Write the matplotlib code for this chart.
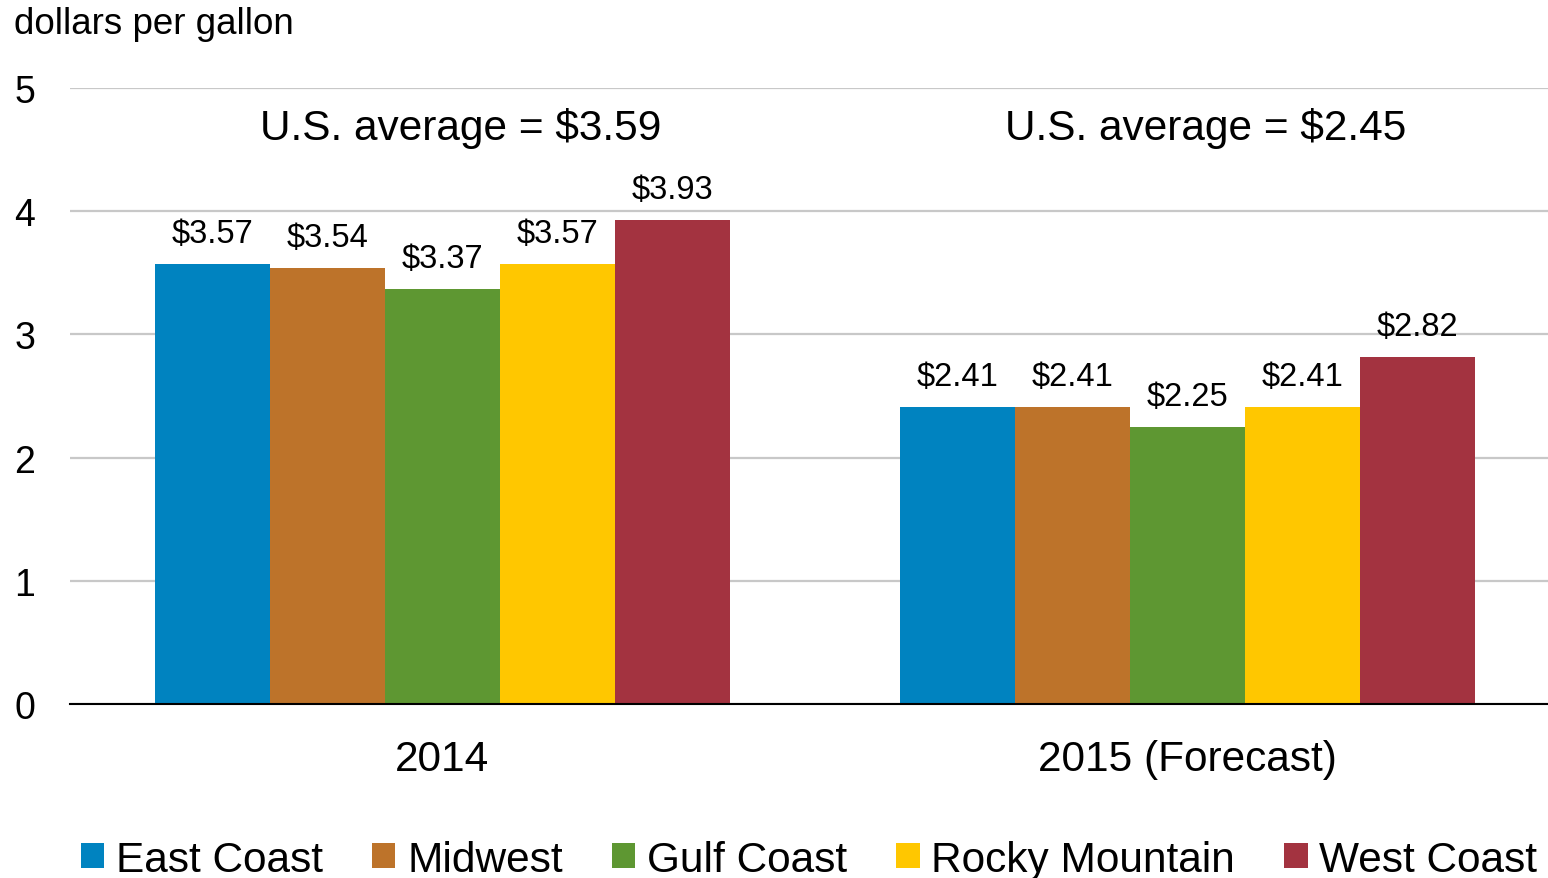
import numpy as np
import matplotlib
matplotlib.use('Agg')
import matplotlib.pyplot as plt

plt.rcParams['font.family'] = ['Liberation Sans', 'DejaVu Sans']

# Data
years = ['2014', '2015 (Forecast)']
regions = ['East Coast', 'Midwest', 'Gulf Coast', 'Rocky Mountain', 'West Coast']
prices = {
    'East Coast': [3.57, 2.41],
    'Midwest': [3.54, 2.41],
    'Gulf Coast': [3.37, 2.25],
    'Rocky Mountain': [3.57, 2.41],
    'West Coast': [3.93, 2.82],
}
us_average = [3.59, 2.45]
colors = ['#0083C0', '#BD732A', '#5E9732', '#FFC700', '#A33340']

fig = plt.figure(figsize=(15.48, 8.79), dpi=100)
ax = fig.add_axes([70/1548, 1 - 705/879, 1478/1548, (705 - 89)/879])

x = np.arange(len(years))
w = 0.1544
for i, reg in enumerate(regions):
    bars = ax.bar(x + (i - 2) * w, prices[reg], w, color=colors[i], label=reg, zorder=2)
    for b, v in zip(bars, prices[reg]):
        ax.annotate(f'${v:.2f}', (b.get_x() + b.get_width() / 2, v),
                    xytext=(0, 22), textcoords='offset points',
                    ha='center', va='center', fontsize=23.5)

for xi, avg in zip(x, us_average):
    ax.text(xi + 0.025, 4.68, f'U.S. average = ${avg:.2f}', ha='center', va='center', fontsize=30.5)

ax.set_xlim(-0.5, 1.484)
ax.set_ylim(0, 5)
ax.set_yticks(range(6))
ax.set_xticks(x)
ax.set_xticklabels(years)
ax.tick_params(axis='y', length=0, pad=25, labelsize=27)
ax.tick_params(axis='x', length=0, pad=25, labelsize=30.5)
ax.yaxis.grid(True, color='#C8C8C8', linewidth=1.6)
ax.set_axisbelow(True)
for s in ['top', 'right', 'left']:
    ax.spines[s].set_visible(False)
ax.spines['bottom'].set_linewidth(1.5)
ax.spines['bottom'].set_zorder(3)

fig.text(14/1548, 1 - 25/879, 'dollars per gallon', ha='left', va='center', fontsize=26.5)

fig.legend(loc='center', bbox_to_anchor=(0.5226, 0.021), ncol=5, frameon=False,
           fontsize=30.5, handlelength=0.55, handleheight=0.55, handletextpad=0.28,
           columnspacing=1.16, borderpad=0, borderaxespad=0)

fig.savefig('out.png', dpi=100)
